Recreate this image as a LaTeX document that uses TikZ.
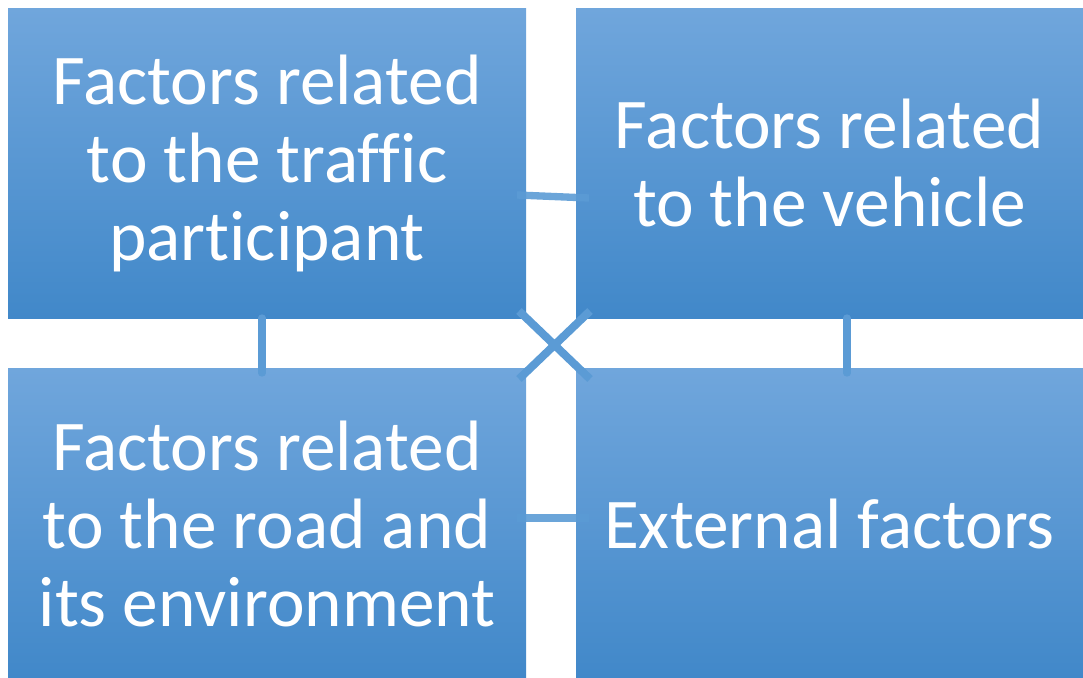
\documentclass[tikz,border=0pt]{standalone}
\usepackage{fontspec}
\setmainfont{Carlito}[Ligatures=NoCommon,RawFeature={-calt}]
\definecolor{boxtop}{RGB}{112,166,220}
\definecolor{boxbot}{RGB}{65,136,201}
\definecolor{linkblue}{RGB}{91,155,213}

\begin{document}
\begin{tikzpicture}[x=0.75pt,y=0.75pt,yscale=-1,xscale=1,
  factor/.style={top color=boxtop,bottom color=boxbot,draw=none,text=white,
    minimum height=232.5pt,inner sep=0pt,align=center,
    font=\fontsize{53.5}{58.5}\selectfont},
  link/.style={draw=linkblue,line width=5.5pt}]
\useasboundingbox (0,0) rectangle (1083,678);

% Shape: Rectangle
\node (tl) [factor,minimum width=388.5pt] at (267,163) {Factors related\\to the traffic\\participant};
% Shape: Rectangle
\node (tr) [factor,minimum width=380.25pt] at (829.5,163) {Factors related\\to the vehicle};
% Shape: Rectangle
\node (bl) [factor,minimum width=388.5pt] at (267,523.5) {Factors related\\to the road and\\its environment};
% Shape: Rectangle
\node (br) [factor,minimum width=380.25pt] at (829.5,523.5) {External factors};

% link ends
\coordinate (h1a) at (517,195);
\coordinate (h1b) at (589,198);
\coordinate (h2a) at (517,518);
\coordinate (h2b) at (589,518);
\coordinate (v1a) at (262,318);
\coordinate (v1b) at (262,373);
\coordinate (v2a) at (847,318);
\coordinate (v2b) at (847,373);
\coordinate (x1a) at (519,311);
\coordinate (x1b) at (590,379);
\coordinate (x2a) at (590,311);
\coordinate (x2b) at (519,379);

%Straight Lines
\draw [link,opacity=0.9] (h1a) -- (h1b);
\draw [link,opacity=0.9] (h2a) -- (h2b);
%Straight Lines
\draw [link,line cap=round] (v1a) -- (v1b);
\draw [link,line cap=round] (v2a) -- (v2b);
%Straight Lines
\draw [link,line width=6pt] (x1a) -- (x1b);
\draw [link,line width=6pt] (x2a) -- (x2b);

\end{tikzpicture}
\end{document}
